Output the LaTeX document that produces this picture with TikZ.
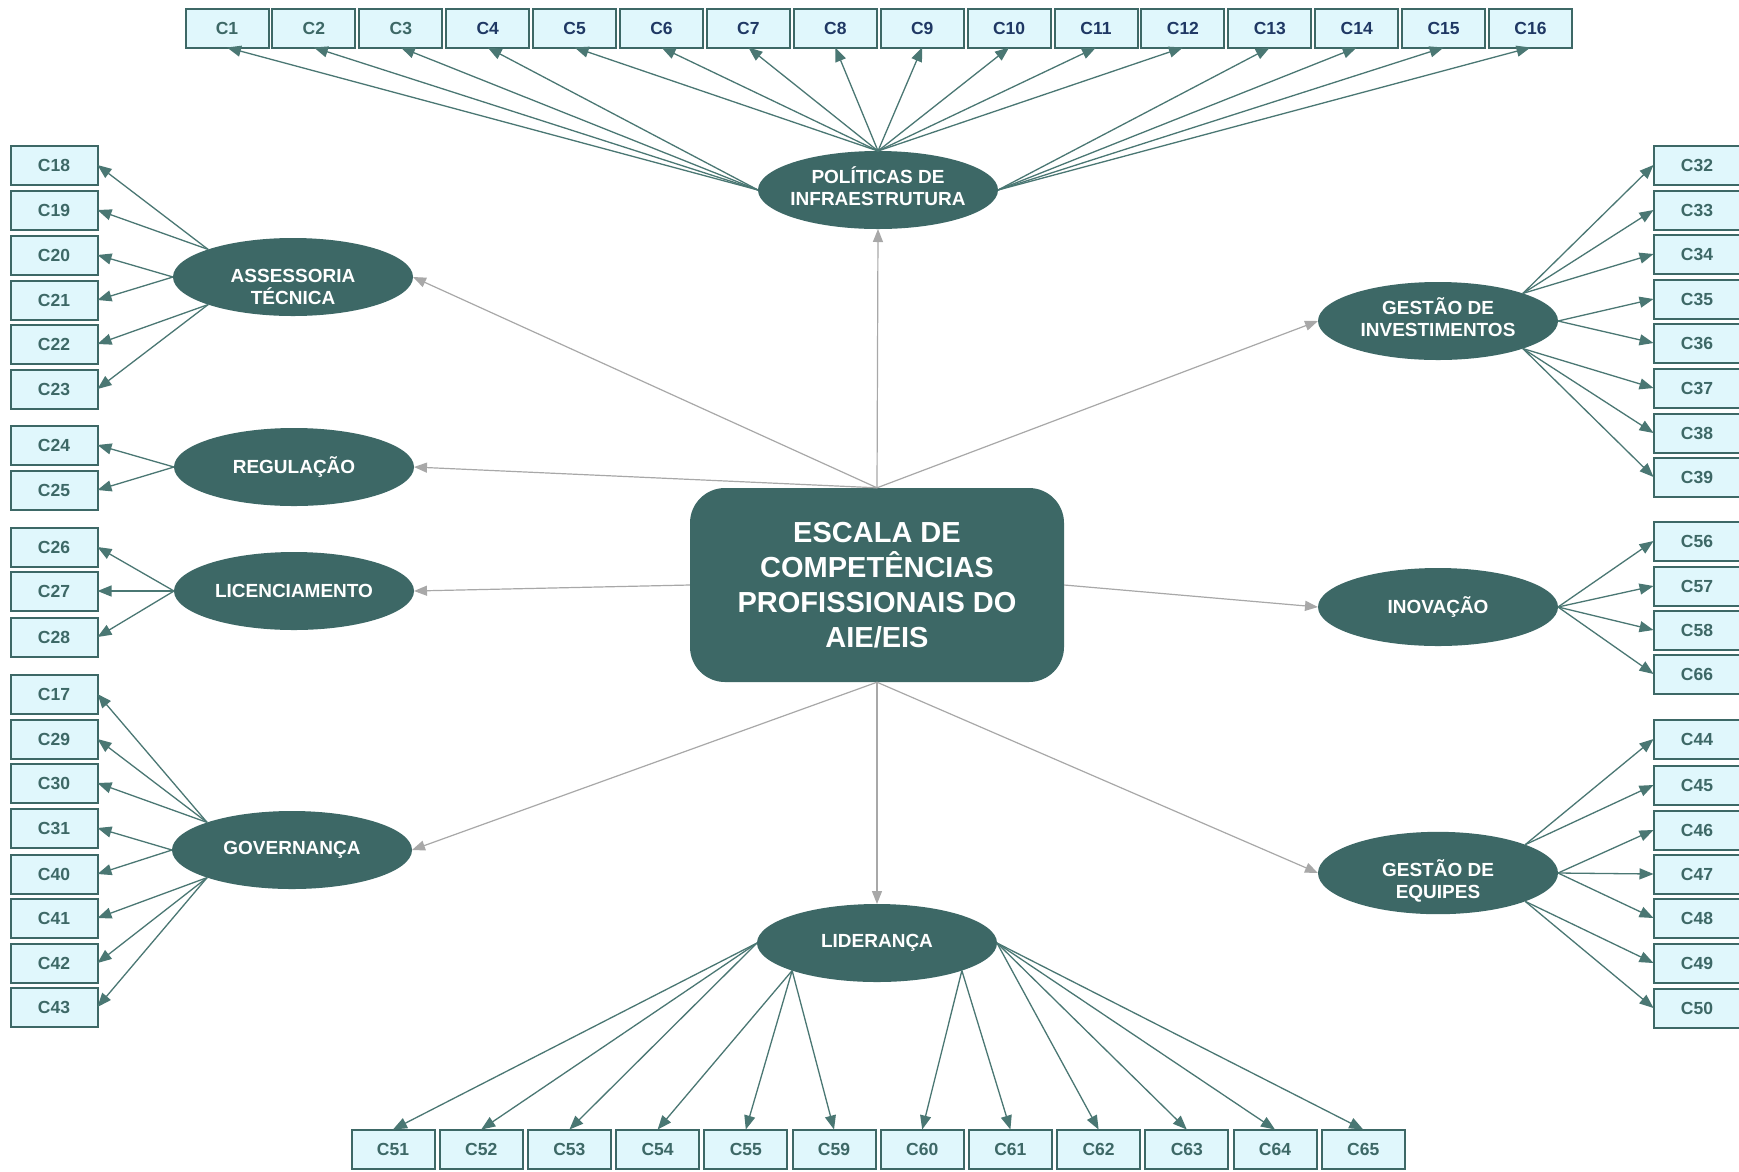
\documentclass[tikz,border=0pt]{standalone}
\usepackage{fontspec}
\setmainfont{Liberation Sans}
\usetikzlibrary{arrows.meta,shapes.geometric}
\definecolor{tealA}{HTML}{3D6866}
\definecolor{boxfill}{HTML}{E0F7FC}
\definecolor{navyT}{HTML}{1F3864}
\definecolor{grayline}{HTML}{A8A8A8}
\definecolor{lineC}{HTML}{4A7773}
\begin{document}
\begin{tikzpicture}[x=1pt,y=-1pt,
  latent/.style={ellipse, fill=tealA, minimum width=240pt, minimum height=78pt, inner ysep=0pt, inner xsep=-6pt, outer sep=0pt,
    text=white, font=\bfseries\fontsize{19}{21.5}\selectfont, align=center},
  ind/.style={rectangle, draw=tealA, line width=2pt, fill=boxfill, minimum width=83pt, minimum height=39pt,
    inner sep=0pt, outer sep=0pt, text=tealA, font=\bfseries\fontsize{17.5}{20}\selectfont},
  sideind/.style={ind, minimum width=87pt},
  navyind/.style={ind, text=navyT},
  mainbox/.style={rectangle, fill=tealA, rounded corners=35pt, minimum width=374pt, minimum height=194pt,
    inner sep=0pt, text=white, font=\bfseries\fontsize{29}{35}\selectfont, align=center},
  load/.style={draw=lineC, line width=1.3pt, -{Triangle[length=14pt,width=11pt]}},
  struct/.style={draw=grayline, line width=1.2pt, -{Triangle[length=13pt,width=10pt]}}
]
\useasboundingbox (0,0) rectangle (1739,1171);
\fill[white] (0,0) rectangle (1739,1171);

% central box
\node[mainbox] (CEN) at (877,585) {ESCALA DE\\COMPETÊNCIAS\\PROFISSIONAIS DO\\AIE/EIS};

% latent variables
\node[latent] (POL)  at (878,190) {POLÍTICAS DE\\INFRAESTRUTURA\rule[-8pt]{0pt}{8pt}};
\node[latent] (ASS)  at (293,277) {\rule{0pt}{33pt}ASSESSORIA\\TÉCNICA};
\node[latent] (REG)  at (294,467) {REGULAÇÃO};
\node[latent] (LIC)  at (294,591) {LICENCIAMENTO};
\node[latent] (GOV)  at (292,850) {GOVERNANÇA};
\node[latent] (LID)  at (877,943) {LIDERANÇA};
\node[latent] (GINV) at (1438,321) {GESTÃO DE\\INVESTIMENTOS\rule[-8pt]{0pt}{8pt}};
\node[latent] (INOV) at (1438,607) {INOVAÇÃO};
\node[latent] (GEQ)  at (1438,873) {\rule{0pt}{33pt}GESTÃO DE\\EQUIPES};

% top row
\foreach \i [count=\k from 0] in {1,2,3}
  \node[ind] (c\i) at ({227+86.9*\k},28) {C\i};
\foreach \i [count=\k from 3] in {4,...,16}
  \node[navyind] (c\i) at ({227+86.9*\k},28) {C\i};

% bottom row
\foreach \i [count=\k from 0] in {51,52,53,54,55,59,60,61,62,63,64,65}
  \node[ind] (c\i) at ({393+88.2*\k},1149) {C\i};

% left column
\foreach \i/\y in {18/165,19/210,20/255,21/300,22/344,23/389,24/445,25/490,26/547,27/591,28/637,
                   17/694,29/739,30/783,31/828,40/874,41/918,42/963,43/1007}
  \node[sideind] (c\i) at (54,\y) {C\i};

% right column
\foreach \i/\y in {32/165,33/210,34/254,35/299,36/343,37/388,38/433,39/477,56/541,57/586,58/630,66/674,
                   44/739,45/785,46/830,47/874,48/918,49/963,50/1008}
  \node[sideind] (c\i) at (1697,\y) {C\i};

% structural arrows
\draw[struct] (CEN.north) -- (POL.south);
\draw[struct] (CEN.north) -- (ASS.east);
\draw[struct] (CEN.north) -- (REG.east);
\draw[struct] (CEN.north) -- (GINV.west);
\draw[struct] (CEN.west) -- (LIC.east);
\draw[struct] (CEN.east) -- (INOV.west);
\draw[struct] (CEN.south) -- (GOV.east);
\draw[struct] (CEN.south) -- (LID.north);
\draw[struct] (CEN.south) -- (GEQ.west);

% loadings: POLÍTICAS
\foreach \i in {1,...,4} \draw[load] (POL.west) -- (c\i.south);
\foreach \i in {5,...,12} \draw[load] (POL.north) -- (c\i.south);
\foreach \i in {13,...,16} \draw[load] (POL.east) -- (c\i.south);

% ASSESSORIA
\foreach \i in {18,19} \draw[load] (ASS.162) -- (c\i.east);
\foreach \i in {20,21} \draw[load] (ASS.west) -- (c\i.east);
\foreach \i in {22,23} \draw[load] (ASS.198) -- (c\i.east);

% REGULAÇÃO, LICENCIAMENTO
\foreach \i in {24,25} \draw[load] (REG.west) -- (c\i.east);
\foreach \i in {26,27,28} \draw[load] (LIC.west) -- (c\i.east);

% GOVERNANÇA
\foreach \i in {17,29,30} \draw[load] (GOV.162) -- (c\i.east);
\foreach \i in {31,40} \draw[load] (GOV.west) -- (c\i.east);
\foreach \i in {41,42,43} \draw[load] (GOV.198) -- (c\i.east);

% GESTÃO DE INVESTIMENTOS
\foreach \i in {32,33,34} \draw[load] (GINV.18) -- (c\i.west);
\foreach \i in {35,36} \draw[load] (GINV.east) -- (c\i.west);
\foreach \i in {37,38,39} \draw[load] (GINV.342) -- (c\i.west);

% INOVAÇÃO
\foreach \i in {56,57,58,66} \draw[load] (INOV.east) -- (c\i.west);

% GESTÃO DE EQUIPES
\foreach \i in {44,45} \draw[load] (GEQ.18) -- (c\i.west);
\foreach \i in {46,47,48} \draw[load] (GEQ.east) -- (c\i.west);
\foreach \i in {49,50} \draw[load] (GEQ.342) -- (c\i.west);

% LIDERANÇA
\foreach \i in {51,52,53} \draw[load] (LID.west) -- (c\i.north);
\foreach \i in {54,55,59} \draw[load] (LID.198) -- (c\i.north);
\foreach \i in {60,61} \draw[load] (LID.342) -- (c\i.north);
\foreach \i in {62,63,64,65} \draw[load] (LID.east) -- (c\i.north);
\end{tikzpicture}
\end{document}
